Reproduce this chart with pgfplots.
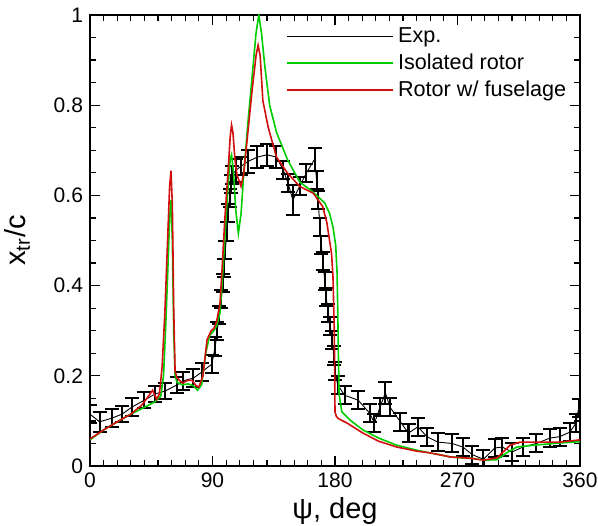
\documentclass[border=0pt]{standalone}
\usepackage{fontspec}
\setmainfont{Liberation Sans}
\usepackage{pgfplots}
\usepackage{pgfplotstable}
\pgfplotsset{compat=1.18}
\definecolor{cgreen}{RGB}{0,205,0}
\definecolor{cred}{RGB}{210,15,15}

\pgfplotstableread{
x y e
0 0.115 0.02
7 0.098 0.022
16 0.106 0.02
23.5 0.115 0.018
31 0.131 0.02
40 0.146 0.018
48 0.160 0.018
55 0.166 0.017
64 0.180 0.018
68.5 0.189 0.02
76 0.195 0.02
82 0.208 0.02
89.5 0.226 0.02
92 0.265 0.02
93.5 0.30 0.02
95 0.335 0.02
96.5 0.37 0.02
97.5 0.405 0.02
98.5 0.44 0.02
99.5 0.48 0.02
100.5 0.52 0.02
101.5 0.56 0.02
102.5 0.595 0.02
103.5 0.625 0.02
104.5 0.645 0.02
107 0.655 0.025
111 0.665 0.02
116 0.675 0.025
123 0.685 0.025
130 0.69 0.025
137 0.685 0.025
142 0.656 0.02
145.5 0.627 0.02
149 0.59 0.033
154 0.62 0.02
159 0.65 0.02
165 0.68 0.025
166.5 0.635 0.02
167.5 0.59 0.02
169 0.53 0.02
170 0.49 0.02
171 0.455 0.02
172.5 0.41 0.02
173.5 0.375 0.02
175 0.34 0.02
176.5 0.31 0.02
178 0.28 0.02
179 0.245 0.02
180 0.21 0.02
182 0.18 0.02
187 0.157 0.02
197 0.146 0.02
205.5 0.117 0.02
209 0.095 0.02
213 0.13 0.02
217 0.162 0.025
220.5 0.13 0.02
228 0.098 0.02
234 0.073 0.02
241 0.087 0.02
247.5 0.065 0.02
255.5 0.053 0.02
266 0.05 0.02
274 0.042 0.02
281 0.025 0.02
289 0.015 0.02
297.5 0.04 0.02
303 0.042 0.02
310 0.031 0.02
318 0.042 0.02
328 0.05 0.02
338 0.062 0.02
345 0.065 0.02
352.5 0.075 0.02
357 0.095 0.02
359 0.128 0.02
}\expdata

\pgfplotstableread{
x y
0 0.058
10 0.08
20 0.098
30 0.115
40 0.13
48 0.143
52 0.155
54 0.20
55.5 0.30
57 0.42
58.5 0.55
59.5 0.59
60.5 0.50
61.5 0.30
62.5 0.20
64 0.185
68 0.18
72 0.182
76 0.178
79 0.168
82 0.18
85 0.25
88 0.29
91 0.30
93 0.31
95.5 0.34
97 0.40
99 0.50
101 0.60
103 0.68
104 0.69
105.5 0.65
107 0.57
109 0.516
111 0.56
113 0.65
116 0.76
119 0.86
122 0.96
124 1.0
126 0.96
128.5 0.885
132 0.80
137 0.74
145 0.68
154 0.63
164 0.607
172.5 0.583
176 0.56
178.5 0.53
180.5 0.49
181.5 0.43
182 0.35
182.5 0.25
183 0.16
185 0.12
191 0.102
200.5 0.08
212 0.062
225.5 0.046
240 0.035
250 0.029
265 0.02
280 0.017
290 0.013
299 0.014
306 0.029
313.5 0.042
325.5 0.046
345 0.051
360 0.054
}\isodata

\pgfplotstableread{
x y
0 0.06
10 0.08
20 0.098
30 0.115
38 0.135
43 0.155
46 0.168
49 0.148
51 0.16
53 0.22
55 0.34
57 0.50
58.5 0.62
59.5 0.655
60.5 0.58
61.5 0.35
62.5 0.21
64 0.195
68 0.184
72 0.19
75 0.19
78 0.178
80 0.175
83 0.20
86 0.28
89 0.30
91 0.305
93 0.32
95.5 0.36
97 0.435
99 0.545
101.5 0.656
103 0.73
104 0.756
105 0.74
106.5 0.68
108 0.645
111 0.62
113 0.65
116 0.74
119 0.83
122 0.91
123.5 0.933
125 0.91
127 0.81
131 0.75
137 0.685
145 0.65
154 0.62
164 0.605
171 0.575
174 0.54
176 0.50
177.5 0.47
178.5 0.42
179.5 0.30
180 0.12
181 0.11
182.5 0.105
189 0.095
200.5 0.073
212 0.055
225.5 0.042
240 0.033
250 0.029
265 0.02
280 0.017
289 0.013
299 0.018
303.5 0.031
308.5 0.046
316 0.053
345 0.053
360 0.058
}\fusdata

\begin{document}
\begin{tikzpicture}
\begin{axis}[
  name=ax,
  scale only axis,
  width=245pt, height=225.5pt,
  xmin=0, xmax=360, ymin=0, ymax=1,
  xtick={0,90,180,270,360},
  ytick={0,0.2,0.4,0.6,0.8,1},
  minor x tick num=8,
  minor y tick num=3,
  tick align=inside,
  major tick length=5pt,
  minor tick length=3pt,
  axis line style={line width=0.8pt},
  every tick/.style={black, line width=0.6pt},
  /pgf/number format/assume math mode=true,
  tick label style={font=\fontsize{10.5}{12}\selectfont},
  xticklabel style={yshift=0pt},
  xlabel={ψ, deg},
  ylabel={x\textsubscript{tr}/c},
  label style={font=\fontsize{14.5}{16}\selectfont},
  xlabel style={yshift=2pt},
  ylabel style={yshift=5pt},
  legend style={at={(0.388,0.99)}, anchor=north west, draw=none, fill=none,
    font=\fontsize{10.8}{12.5}\selectfont, row sep=0pt},
  legend cell align=left,
  legend image code/.code={\path (0pt,0pt) -- (53pt,0pt);\draw[#1] (0pt,0pt) -- (48pt,0pt);},
]
\addplot[black, line width=0.45pt, forget plot,
  error bars/.cd, y dir=both, y explicit,
  error bar style={line width=1pt, black},
  error mark options={rotate=90, mark size=3.5pt, line width=1pt, black}]
  table[x=x, y=y, y error=e] {\expdata};
\addlegendimage{black, line width=0.5pt}
\addlegendentry{Exp.}
\addplot[cgreen, line width=0.8pt] table[x=x, y=y] {\isodata};
\addlegendentry{Isolated rotor}
\addplot[cred, line width=0.8pt] table[x=x, y=y] {\fusdata};
\addlegendentry{Rotor w/ fuselage}
\end{axis}
\pgfresetboundingbox
\path[use as bounding box] (ax.south west) ++(-45pt,-29.5pt) rectangle ++(299pt,262.5pt);
\end{tikzpicture}
\end{document}
